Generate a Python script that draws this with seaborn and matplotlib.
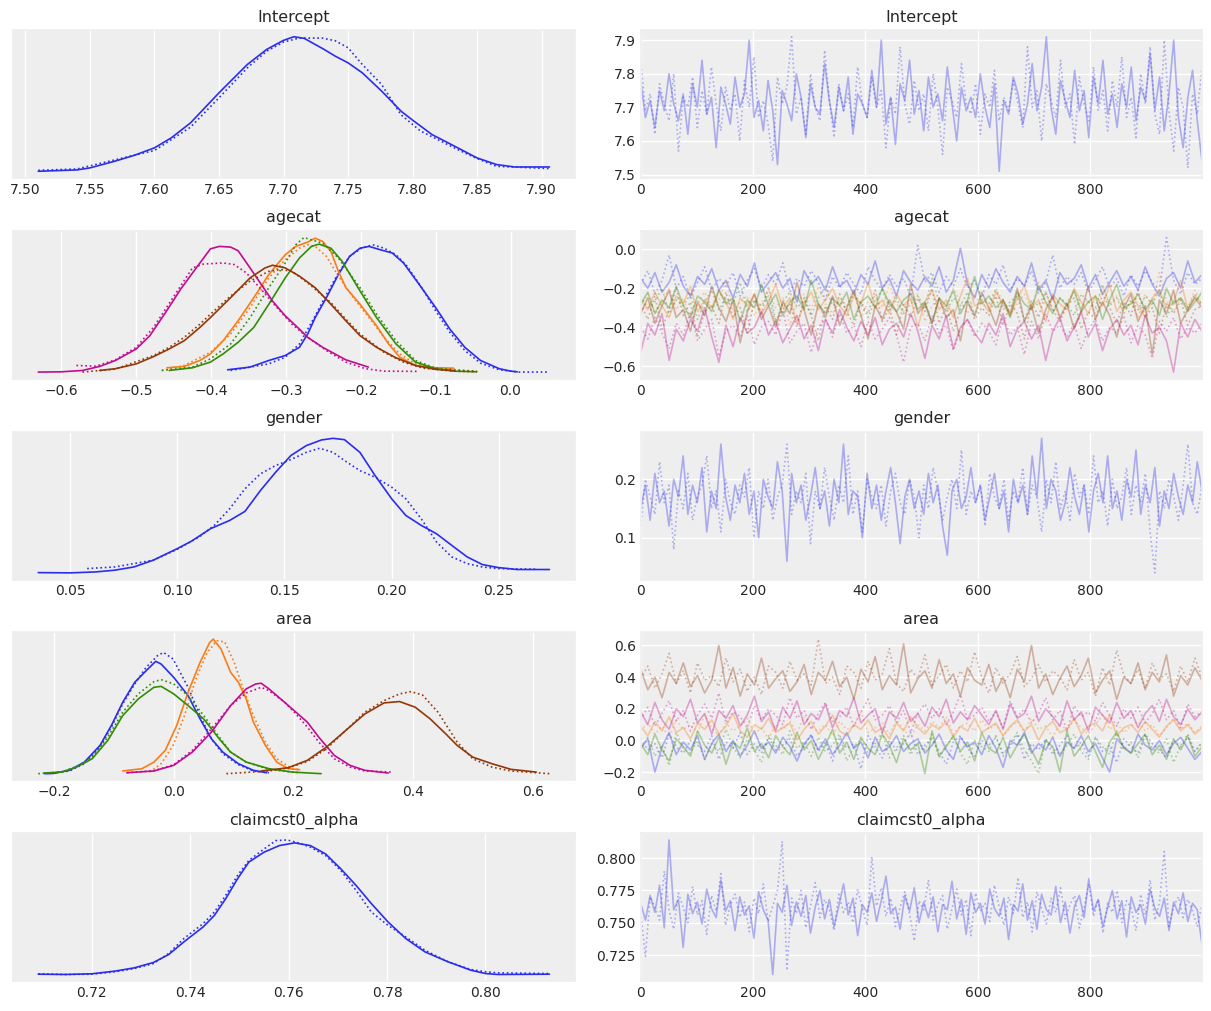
import numpy as np
import matplotlib
matplotlib.use("Agg")
import matplotlib.pyplot as plt
import seaborn as sns

# ---------------- colours (ArviZ darkgrid cycle) ----------------
COLORS = ["#2a2eec", "#fa7c17", "#328c06", "#c10c90", "#933708"]
VAR_NAMES = ["Intercept", "agecat", "gender", "area", "claimcst0_alpha"]

# ---------------- KDE curves (relative density) --------
# structure: [dim][chain] ; chain 0 solid, chain 1 dotted
intercept_kde_x = [[
    [7.510, 7.540, 7.550, 7.569, 7.584, 7.600, 7.613, 7.628, 7.650, 7.672, 7.687, 7.700, 7.708,
     7.716, 7.731, 7.740, 7.750, 7.761, 7.776, 7.791, 7.800, 7.815, 7.835, 7.850, 7.865, 7.879, 7.906],
    [7.510, 7.540, 7.569, 7.584, 7.600, 7.628, 7.650, 7.672, 7.687, 7.700, 7.712, 7.730, 7.740,
     7.750, 7.761, 7.776, 7.791, 7.806, 7.835, 7.850, 7.865, 7.906]]]
intercept_kde_y = [[
    [0.000, 0.010, 0.025, 0.074, 0.117, 0.174, 0.248, 0.360, 0.583, 0.794, 0.906, 0.973, 1.000,
     0.988, 0.908, 0.856, 0.806, 0.732, 0.596, 0.447, 0.380, 0.273, 0.174, 0.099, 0.050, 0.032, 0.032],
    [0.007, 0.017, 0.084, 0.119, 0.154, 0.328, 0.546, 0.769, 0.893, 0.960, 0.990, 0.990, 0.970,
     0.918, 0.794, 0.645, 0.420, 0.300, 0.161, 0.094, 0.037, 0.020]]]

agecat_kde_x = [
    [[-0.378, -0.348, -0.323, -0.301, -0.282, -0.271, -0.261, -0.246, -0.230, -0.215, -0.201, -0.189,
      -0.174, -0.158, -0.143, -0.122, -0.100, -0.081, -0.061, -0.040, -0.015, 0.000, 0.009],
     [-0.374, -0.323, -0.301, -0.282, -0.261, -0.246, -0.230, -0.215, -0.199, -0.184, -0.169, -0.153,
      -0.138, -0.117, -0.100, -0.081, -0.061, -0.040, -0.015, 0.011, 0.052]],
    [[-0.459, -0.436, -0.415, -0.401, -0.384, -0.364, -0.343, -0.323, -0.312, -0.301, -0.287, -0.271,
      -0.261, -0.251, -0.240, -0.230, -0.220, -0.201, -0.179, -0.163, -0.148, -0.127, -0.100, -0.076],
     [-0.466, -0.436, -0.401, -0.374, -0.348, -0.323, -0.301, -0.282, -0.271, -0.261, -0.246, -0.230,
      -0.210, -0.189, -0.169, -0.148, -0.127, -0.100, -0.076, -0.045]],
    [[-0.456, -0.425, -0.401, -0.384, -0.364, -0.343, -0.323, -0.301, -0.282, -0.266, -0.256, -0.240,
      -0.225, -0.201, -0.179, -0.153, -0.127, -0.100, -0.076, -0.045],
     [-0.466, -0.425, -0.401, -0.374, -0.348, -0.323, -0.301, -0.287, -0.276, -0.266, -0.251, -0.230,
      -0.201, -0.179, -0.153, -0.127, -0.100, -0.045]],
    [[-0.631, -0.600, -0.572, -0.549, -0.528, -0.500, -0.482, -0.461, -0.441, -0.420, -0.410, -0.401,
      -0.389, -0.374, -0.364, -0.348, -0.333, -0.318, -0.301, -0.282, -0.271, -0.251, -0.220, -0.190],
     [-0.580, -0.554, -0.528, -0.500, -0.477, -0.451, -0.425, -0.410, -0.384, -0.369, -0.353, -0.333,
      -0.312, -0.292, -0.271, -0.246, -0.220, -0.194, -0.169, -0.122]],
    [[-0.549, -0.528, -0.500, -0.477, -0.456, -0.436, -0.415, -0.401, -0.374, -0.348, -0.328, -0.318,
      -0.301, -0.282, -0.261, -0.240, -0.220, -0.201, -0.179, -0.153, -0.127, -0.100, -0.076],
     [-0.572, -0.528, -0.477, -0.456, -0.436, -0.415, -0.401, -0.374, -0.348, -0.323, -0.307, -0.292,
      -0.271, -0.240, -0.220, -0.201, -0.169, -0.143, -0.117, -0.076, -0.045]],
]
agecat_kde_y = [
    [[0.017, 0.037, 0.086, 0.123, 0.184, 0.283, 0.405, 0.553, 0.725, 0.860, 0.921, 0.934, 0.909,
      0.885, 0.811, 0.651, 0.479, 0.319, 0.184, 0.086, 0.025, 0.007, 0.002],
     [0.012, 0.061, 0.111, 0.209, 0.418, 0.577, 0.737, 0.860, 0.921, 0.946, 0.921, 0.872, 0.786,
      0.614, 0.455, 0.295, 0.160, 0.066, 0.017, 0.000, 0.000]],
    [[0.032, 0.042, 0.086, 0.135, 0.233, 0.381, 0.553, 0.725, 0.799, 0.872, 0.934, 0.966, 0.995,
      0.971, 0.897, 0.749, 0.627, 0.504, 0.344, 0.209, 0.111, 0.049, 0.032, 0.029],
     [0.012, 0.049, 0.147, 0.283, 0.479, 0.700, 0.835, 0.921, 0.946, 0.934, 0.860, 0.713, 0.553,
      0.405, 0.258, 0.135, 0.061, 0.025, 0.007, 0.002]],
    [[0.012, 0.032, 0.074, 0.135, 0.221, 0.332, 0.504, 0.700, 0.848, 0.934, 0.951, 0.921, 0.823,
      0.602, 0.405, 0.209, 0.074, 0.025, 0.007, 0.002],
     [0.012, 0.037, 0.098, 0.209, 0.405, 0.627, 0.811, 0.946, 1.000, 0.983, 0.958, 0.848, 0.627,
      0.430, 0.233, 0.086, 0.029, 0.005]],
    [[0.000, 0.002, 0.012, 0.042, 0.086, 0.172, 0.270, 0.442, 0.614, 0.774, 0.848, 0.916, 0.934,
      0.929, 0.902, 0.774, 0.651, 0.528, 0.418, 0.319, 0.258, 0.184, 0.091, 0.037],
     [0.049, 0.044, 0.091, 0.184, 0.332, 0.553, 0.774, 0.803, 0.811, 0.799, 0.737, 0.614, 0.479,
      0.356, 0.258, 0.160, 0.074, 0.025, 0.007, 0.005]],
    [[0.012, 0.025, 0.061, 0.115, 0.172, 0.233, 0.332, 0.405, 0.553, 0.700, 0.774, 0.794, 0.774,
      0.713, 0.627, 0.504, 0.381, 0.270, 0.184, 0.106, 0.049, 0.020, 0.012],
     [0.000, 0.022, 0.123, 0.184, 0.258, 0.356, 0.430, 0.565, 0.676, 0.749, 0.762, 0.749, 0.663,
      0.516, 0.393, 0.283, 0.147, 0.074, 0.029, 0.007, 0.005]],
]

gender_kde_x = [[
    [0.0352, 0.0500, 0.0620, 0.0709, 0.0798, 0.0888, 0.1000, 0.1066, 0.1155, 0.1245, 0.1316, 0.1388,
     0.1459, 0.1530, 0.1602, 0.1673, 0.1727, 0.1780, 0.1852, 0.1923, 0.2000, 0.2066, 0.2138, 0.2209,
     0.2280, 0.2352, 0.2423, 0.2495, 0.2584, 0.2736],
    [0.0580, 0.0709, 0.0798, 0.0888, 0.1000, 0.1102, 0.1173, 0.1245, 0.1316, 0.1388, 0.1459, 0.1530,
     0.1602, 0.1664, 0.1727, 0.1780, 0.1852, 0.1923, 0.2000, 0.2066, 0.2138, 0.2209, 0.2280, 0.2352,
     0.2423, 0.2495, 0.2673]]]
gender_kde_y = [[
    [0.002, 0.000, 0.007, 0.020, 0.044, 0.094, 0.180, 0.235, 0.328, 0.390, 0.457, 0.612, 0.748, 0.872,
     0.946, 0.988, 1.000, 0.990, 0.896, 0.723, 0.551, 0.427, 0.353, 0.291, 0.205, 0.119, 0.062, 0.040,
     0.025, 0.025],
    [0.032, 0.044, 0.069, 0.094, 0.175, 0.267, 0.353, 0.477, 0.625, 0.736, 0.798, 0.842, 0.896, 0.926,
     0.896, 0.835, 0.760, 0.711, 0.637, 0.551, 0.402, 0.230, 0.119, 0.069, 0.044, 0.032, 0.027]]]

area_kde_x = [
    [[-0.213, -0.200, -0.174, -0.149, -0.123, -0.104, -0.085, -0.065, -0.046, -0.030, -0.021, 0.000,
      0.024, 0.044, 0.063, 0.082, 0.108, 0.133, 0.155],
     [-0.216, -0.174, -0.149, -0.123, -0.104, -0.085, -0.065, -0.046, -0.027, -0.017, -0.001, 0.024,
      0.044, 0.063, 0.082, 0.108, 0.133, 0.159]],
    [[-0.085, -0.053, -0.033, -0.014, 0.005, 0.024, 0.044, 0.060, 0.066, 0.079, 0.095, 0.108, 0.121,
      0.133, 0.153, 0.172, 0.191, 0.210],
     [-0.040, -0.021, -0.001, 0.018, 0.037, 0.056, 0.072, 0.085, 0.101, 0.114, 0.133, 0.153, 0.172,
      0.197, 0.210]],
    [[-0.216, -0.187, -0.162, -0.136, -0.110, -0.085, -0.059, -0.033, -0.021, 0.000, 0.024, 0.050,
      0.076, 0.095, 0.121, 0.159, 0.197, 0.246],
     [-0.226, -0.187, -0.162, -0.136, -0.110, -0.085, -0.059, -0.033, -0.021, 0.000, 0.024, 0.050,
      0.076, 0.095, 0.121, 0.159, 0.210]],
    [[-0.078, -0.033, 0.000, 0.031, 0.063, 0.095, 0.121, 0.137, 0.146, 0.159, 0.185, 0.204, 0.223,
      0.242, 0.268, 0.294, 0.319, 0.358],
     [-0.078, -0.033, 0.000, 0.031, 0.063, 0.095, 0.121, 0.146, 0.159, 0.185, 0.204, 0.223, 0.242,
      0.268, 0.294, 0.319, 0.364]],
    [[0.146, 0.191, 0.223, 0.255, 0.287, 0.319, 0.351, 0.377, 0.403, 0.428, 0.454, 0.473, 0.499,
      0.531, 0.563, 0.605],
     [0.088, 0.159, 0.191, 0.223, 0.255, 0.287, 0.319, 0.351, 0.377, 0.396, 0.415, 0.441, 0.473,
      0.499, 0.531, 0.563, 0.627]],
]
area_kde_y = [
    [[0.000, 0.002, 0.025, 0.086, 0.210, 0.358, 0.531, 0.679, 0.765, 0.835, 0.815, 0.716, 0.580,
      0.407, 0.259, 0.160, 0.074, 0.025, 0.007],
     [0.000, 0.020, 0.074, 0.198, 0.346, 0.519, 0.667, 0.790, 0.877, 0.901, 0.852, 0.642, 0.432,
      0.259, 0.148, 0.067, 0.020, 0.007]],
    [[0.020, 0.037, 0.086, 0.173, 0.358, 0.605, 0.827, 0.975, 1.000, 0.926, 0.753, 0.679, 0.556,
      0.383, 0.210, 0.086, 0.037, 0.030],
     [0.012, 0.074, 0.210, 0.432, 0.704, 0.901, 0.988, 0.980, 0.827, 0.654, 0.432, 0.235, 0.111,
      0.037, 0.030]],
    [[0.005, 0.012, 0.049, 0.111, 0.247, 0.432, 0.556, 0.642, 0.649, 0.593, 0.506, 0.407, 0.259,
      0.160, 0.086, 0.037, 0.012, 0.000],
     [0.000, 0.012, 0.054, 0.123, 0.272, 0.457, 0.593, 0.684, 0.699, 0.667, 0.580, 0.432, 0.272,
      0.160, 0.086, 0.032, 0.007]],
    [[0.007, 0.020, 0.062, 0.160, 0.309, 0.506, 0.630, 0.667, 0.672, 0.630, 0.531, 0.457, 0.383,
      0.272, 0.136, 0.062, 0.025, 0.005],
     [0.007, 0.022, 0.067, 0.173, 0.333, 0.506, 0.600, 0.642, 0.617, 0.531, 0.444, 0.346, 0.235,
      0.111, 0.049, 0.020, 0.012]],
    [[0.020, 0.044, 0.099, 0.198, 0.321, 0.444, 0.526, 0.536, 0.494, 0.407, 0.296, 0.210, 0.123,
      0.074, 0.032, 0.012],
     [0.000, 0.020, 0.042, 0.091, 0.185, 0.321, 0.457, 0.543, 0.593, 0.610, 0.585, 0.457, 0.235,
      0.111, 0.049, 0.020, 0.000]],
]

alpha_kde_x = [[
    [0.7091, 0.7146, 0.7200, 0.7247, 0.7286, 0.7325, 0.7356, 0.7387, 0.7426, 0.7449, 0.7472, 0.7496,
     0.7519, 0.7550, 0.7581, 0.7612, 0.7644, 0.7675, 0.7706, 0.7737, 0.7768, 0.7802, 0.7838, 0.7877,
     0.7924, 0.7970, 0.8000, 0.8025, 0.8130],
    [0.7091, 0.7146, 0.7200, 0.7247, 0.7286, 0.7325, 0.7356, 0.7387, 0.7426, 0.7449, 0.7472, 0.7496,
     0.7519, 0.7550, 0.7574, 0.7597, 0.7620, 0.7644, 0.7675, 0.7706, 0.7737, 0.7768, 0.7802, 0.7838,
     0.7877, 0.7924, 0.7970, 0.8000, 0.8025, 0.8130]]]
alpha_kde_y = [[
    [0.002, 0.000, 0.005, 0.025, 0.049, 0.089, 0.148, 0.242, 0.353, 0.439, 0.563, 0.711, 0.835, 0.909,
     0.958, 0.978, 0.958, 0.896, 0.785, 0.662, 0.527, 0.390, 0.267, 0.168, 0.094, 0.032, 0.007, 0.000,
     0.002],
    [0.005, 0.000, 0.002, 0.020, 0.044, 0.081, 0.156, 0.267, 0.378, 0.464, 0.588, 0.736, 0.847, 0.933,
     0.995, 1.000, 0.978, 0.946, 0.884, 0.773, 0.625, 0.464, 0.365, 0.279, 0.180, 0.094, 0.037, 0.020,
     0.012, 0.007]]]

# ---------------- trace values read (thinned) from the picture ----------------
intercept_trace = [[
    [7.78, 7.67, 7.72, 7.64, 7.75, 7.69, 7.80, 7.71, 7.66, 7.74,
     7.62, 7.77, 7.70, 7.84, 7.68, 7.73, 7.58, 7.76, 7.71, 7.65,
     7.79, 7.70, 7.74, 7.90, 7.67, 7.72, 7.63, 7.78, 7.69, 7.53,
     7.75, 7.71, 7.66, 7.80, 7.73, 7.61, 7.77, 7.70, 7.68, 7.83,
     7.72, 7.64, 7.76, 7.69, 7.79, 7.62, 7.74, 7.71, 7.67, 7.81,
     7.70, 7.90, 7.65, 7.73, 7.59, 7.77, 7.72, 7.84, 7.68, 7.75,
     7.63, 7.79, 7.70, 7.74, 7.66, 7.82, 7.71, 7.60, 7.76, 7.69,
     7.73, 7.67, 7.80, 7.70, 7.64, 7.77, 7.51, 7.72, 7.68, 7.79,
     7.74, 7.65, 7.71, 7.83, 7.69, 7.76, 7.91, 7.70, 7.62, 7.78,
     7.72, 7.67, 7.81, 7.69, 7.75, 7.61, 7.79, 7.71, 7.84, 7.68,
     7.74, 7.64, 7.77, 7.70, 7.82, 7.66, 7.76, 7.72, 7.86, 7.69,
     7.79, 7.63, 7.74, 7.90, 7.67, 7.58, 7.73, 7.81, 7.66, 7.54],
    [7.84, 7.69, 7.74, 7.62, 7.77, 7.71, 7.66, 7.80, 7.57, 7.73,
     7.70, 7.79, 7.64, 7.75, 7.68, 7.82, 7.71, 7.63, 7.76, 7.69,
     7.74, 7.60, 7.78, 7.70, 7.85, 7.67, 7.72, 7.65, 7.54, 7.79,
     7.71, 7.76, 7.91, 7.68, 7.73, 7.62, 7.80, 7.70, 7.66, 7.87,
     7.72, 7.61, 7.77, 7.69, 7.74, 7.64, 7.82, 7.71, 7.67, 7.79,
     7.70, 7.75, 7.58, 7.73, 7.68, 7.88, 7.71, 7.65, 7.78, 7.69,
     7.74, 7.63, 7.80, 7.70, 7.56, 7.76, 7.72, 7.67, 7.83, 7.71,
     7.68, 7.77, 7.62, 7.74, 7.70, 7.81, 7.66, 7.73, 7.69, 7.78,
     7.71, 7.64, 7.88, 7.70, 7.75, 7.60, 7.77, 7.72, 7.67, 7.84,
     7.70, 7.74, 7.59, 7.79, 7.71, 7.66, 7.82, 7.69, 7.75, 7.63,
     7.78, 7.70, 7.85, 7.67, 7.73, 7.61, 7.80, 7.71, 7.88, 7.68,
     7.62, 7.90, 7.69, 7.57, 7.76, 7.70, 7.52, 7.74, 7.68, 7.82]]]

agecat_trace = [
    [[-0.15, -0.20, -0.12, -0.22, -0.17, -0.08, -0.19, -0.24, -0.14, -0.18,
      -0.10, -0.21, -0.16, -0.25, -0.13, -0.19, -0.07, -0.22, -0.17, -0.12,
      -0.20, -0.15, -0.27, -0.11, -0.18, -0.14, -0.21, -0.09, -0.19, -0.16,
      -0.23, -0.13, -0.18, -0.06, -0.20, -0.15, -0.24, -0.11, -0.17, -0.21,
      -0.14, -0.19, -0.09, -0.22, -0.16, 0.005, -0.18, -0.25, -0.13, -0.20,
      -0.10, -0.17, -0.22, -0.14, -0.19, -0.07, -0.21, -0.16, -0.26, -0.12,
      -0.18, -0.15, -0.08, -0.20, -0.13, -0.23, -0.17, -0.11, -0.19, -0.14,
      -0.21, -0.09, -0.18, -0.24, -0.15, -0.12, -0.20, -0.06, -0.17, -0.13],
     [-0.18, -0.11, -0.23, -0.16, -0.03, -0.20, -0.14, -0.25, -0.17, -0.09,
      -0.21, -0.15, -0.19, -0.12, -0.24, -0.16, -0.10, -0.20, -0.13, -0.18,
      -0.07, -0.22, -0.15, -0.19, -0.11, -0.17, -0.26, -0.14, -0.20, -0.12,
      -0.18, -0.23, -0.09, -0.16, -0.21, -0.13, -0.19, -0.15, -0.24, 0.02,
      -0.17, -0.12, -0.22, -0.14, -0.19, -0.10, -0.20, -0.16, -0.25, -0.13,
      -0.18, -0.08, -0.21, -0.15, -0.19, -0.11, -0.23, -0.17, -0.03, -0.20,
      -0.14, -0.18, -0.12, -0.22, -0.16, -0.09, -0.20, -0.15, -0.24, -0.13,
      -0.19, -0.11, -0.17, -0.21, 0.06, -0.16, -0.23, -0.12, -0.18, -0.15]],
    [[-0.26, -0.31, -0.22, -0.29, -0.35, -0.24, -0.28, -0.19, -0.32, -0.26,
      -0.30, -0.21, -0.27, -0.36, -0.25, -0.29, -0.23, -0.33, -0.27, -0.18,
      -0.30, -0.25, -0.38, -0.28, -0.22, -0.31, -0.26, -0.20, -0.29, -0.34,
      -0.24, -0.28, -0.17, -0.30, -0.26, -0.33, -0.23, -0.29, -0.25, -0.40,
      -0.27, -0.21, -0.31, -0.26, -0.35, -0.24, -0.15, -0.29, -0.27, -0.32,
      -0.22, -0.28, -0.34, -0.25, -0.19, -0.30, -0.26, -0.37, -0.23, -0.28,
      -0.31, -0.20, -0.27, -0.33, -0.24, -0.29, -0.18, -0.32, -0.26, -0.22,
      -0.29, -0.35, -0.25, -0.21, -0.30, -0.27, -0.16, -0.31, -0.24, -0.28],
     [-0.29, -0.23, -0.33, -0.27, -0.20, -0.31, -0.25, -0.36, -0.28, -0.22,
      -0.30, -0.26, -0.16, -0.32, -0.27, -0.24, -0.34, -0.28, -0.21, -0.30,
      -0.25, -0.39, -0.27, -0.23, -0.31, -0.19, -0.28, -0.33, -0.25, -0.29,
      -0.22, -0.35, -0.27, -0.24, -0.30, -0.18, -0.28, -0.32, -0.26, -0.23,
      -0.37, -0.29, -0.25, -0.31, -0.20, -0.27, -0.33, -0.24, -0.28, -0.30,
      -0.21, -0.26, -0.34, -0.28, -0.23, -0.31, -0.17, -0.29, -0.25, -0.36,
      -0.27, -0.22, -0.30, -0.26, -0.33, -0.19, -0.28, -0.24, -0.31, -0.27,
      -0.35, -0.23, -0.29, -0.12, -0.26, -0.32, -0.25, -0.30, -0.21, -0.28]],
    [[-0.28, -0.22, -0.33, -0.26, -0.30, -0.19, -0.29, -0.35, -0.24, -0.27,
      -0.32, -0.21, -0.28, -0.25, -0.37, -0.26, -0.30, -0.18, -0.29, -0.23,
      -0.34, -0.27, -0.24, -0.31, -0.16, -0.28, -0.33, -0.25, -0.29, -0.22,
      -0.36, -0.27, -0.24, -0.30, -0.20, -0.28, -0.32, -0.26, -0.23, -0.31,
      -0.27, -0.38, -0.25, -0.29, -0.21, -0.33, -0.26, -0.14, -0.28, -0.24,
      -0.30, -0.26, -0.35, -0.22, -0.28, -0.31, -0.19, -0.27, -0.33, -0.25,
      -0.29, -0.21, -0.32, -0.27, -0.24, -0.36, -0.26, -0.18, -0.30, -0.28,
      -0.23, -0.31, -0.26, -0.34, -0.20, -0.28, -0.25, -0.32, -0.27, -0.22],
     [-0.24, -0.30, -0.27, -0.20, -0.33, -0.26, -0.29, -0.23, -0.36, -0.27,
      -0.21, -0.31, -0.25, -0.28, -0.17, -0.32, -0.26, -0.29, -0.24, -0.38,
      -0.27, -0.22, -0.30, -0.26, -0.34, -0.25, -0.19, -0.29, -0.27, -0.31,
      -0.23, -0.28, -0.35, -0.26, -0.21, -0.30, -0.25, -0.33, -0.28, -0.24,
      -0.30, -0.15, -0.27, -0.32, -0.25, -0.29, -0.22, -0.34, -0.26, -0.28,
      -0.20, -0.31, -0.27, -0.24, -0.37, -0.26, -0.29, -0.22, -0.32, -0.25,
      -0.28, -0.34, -0.23, -0.27, -0.30, -0.18, -0.29, -0.25, -0.33, -0.26,
      -0.31, -0.24, -0.28, -0.21, -0.35, -0.27, -0.25, -0.30, -0.23, -0.29]],
    [[-0.53, -0.38, -0.44, -0.33, -0.57, -0.41, -0.47, -0.36, -0.42, -0.30,
      -0.45, -0.58, -0.39, -0.50, -0.35, -0.43, -0.40, -0.32, -0.44, -0.37,
      -0.48, -0.41, -0.34, -0.46, -0.39, -0.52, -0.36, -0.43, -0.31, -0.40,
      -0.47, -0.37, -0.44, -0.35, -0.49, -0.41, -0.38, -0.45, -0.33, -0.42,
      -0.56, -0.39, -0.46, -0.34, -0.51, -0.40, -0.36, -0.43, -0.48, -0.38,
      -0.44, -0.33, -0.50, -0.41, -0.37, -0.46, -0.39, -0.57, -0.42, -0.35,
      -0.47, -0.40, -0.32, -0.45, -0.38, -0.52, -0.41, -0.36, -0.44, -0.39,
      -0.49, -0.34, -0.43, -0.40, -0.47, -0.63, -0.38, -0.45, -0.36, -0.42],
     [-0.40, -0.46, -0.35, -0.43, -0.51, -0.38, -0.44, -0.32, -0.47, -0.41,
      -0.36, -0.55, -0.42, -0.39, -0.45, -0.34, -0.49, -0.40, -0.37, -0.44,
      -0.31, -0.48, -0.42, -0.38, -0.53, -0.40, -0.36, -0.45, -0.33, -0.43,
      -0.39, -0.50, -0.37, -0.46, -0.41, -0.35, -0.44, -0.58, -0.40, -0.38,
      -0.47, -0.34, -0.43, -0.39, -0.52, -0.41, -0.36, -0.45, -0.38, -0.42,
      -0.49, -0.35, -0.44, -0.40, -0.54, -0.37, -0.46, -0.33, -0.42, -0.39,
      -0.45, -0.38, -0.51, -0.41, -0.36, -0.47, -0.40, -0.43, -0.34, -0.48,
      -0.39, -0.44, -0.56, -0.37, -0.42, -0.35, -0.46, -0.40, -0.43, -0.38]],
    [[-0.33, -0.25, -0.38, -0.29, -0.21, -0.35, -0.31, -0.42, -0.27, -0.34,
      -0.19, -0.30, -0.37, -0.26, -0.48, -0.32, -0.23, -0.36, -0.29, -0.40,
      -0.27, -0.33, -0.17, -0.31, -0.44, -0.28, -0.35, -0.24, -0.39, -0.30,
      -0.21, -0.34, -0.46, -0.29, -0.36, -0.26, -0.32, -0.41, -0.18, -0.33,
      -0.28, -0.38, -0.25, -0.35, -0.31, -0.47, -0.27, -0.34, -0.22, -0.30,
      -0.39, -0.26, -0.33, -0.20, -0.37, -0.29, -0.43, -0.31, -0.24, -0.35,
      -0.28, -0.41, -0.32, -0.19, -0.36, -0.27, -0.34, -0.45, -0.30, -0.23,
      -0.37, -0.29, -0.54, -0.26, -0.33, -0.21, -0.38, -0.31, -0.25, -0.30],
     [-0.28, -0.36, -0.24, -0.41, -0.31, -0.20, -0.34, -0.27, -0.45, -0.32,
      -0.29, -0.38, -0.22, -0.35, -0.30, -0.43, -0.26, -0.33, -0.19, -0.37,
      -0.31, -0.28, -0.40, -0.25, -0.34, -0.47, -0.29, -0.36, -0.23, -0.32,
      -0.39, -0.27, -0.33, -0.21, -0.37, -0.30, -0.44, -0.28, -0.35, -0.25,
      -0.32, -0.20, -0.38, -0.29, -0.42, -0.31, -0.26, -0.36, -0.30, -0.34,
      -0.24, -0.39, -0.28, -0.33, -0.46, -0.27, -0.35, -0.22, -0.31, -0.37,
      -0.29, -0.25, -0.41, -0.32, -0.36, -0.23, -0.30, -0.38, -0.27, -0.34,
      -0.21, -0.35, -0.30, -0.43, -0.28, -0.33, -0.26, -0.39, -0.31, -0.29]],
]

gender_trace = [[
    [0.15, 0.19, 0.13, 0.21, 0.16, 0.18, 0.12, 0.20, 0.17, 0.24,
     0.14, 0.19, 0.16, 0.22, 0.11, 0.18, 0.15, 0.26, 0.17, 0.13,
     0.19, 0.16, 0.21, 0.14, 0.18, 0.10, 0.20, 0.17, 0.15, 0.23,
     0.18, 0.06, 0.21, 0.16, 0.19, 0.13, 0.17, 0.22, 0.15, 0.18,
     0.12, 0.20, 0.16, 0.26, 0.14, 0.18, 0.17, 0.10, 0.21, 0.15,
     0.19, 0.13, 0.18, 0.22, 0.16, 0.09, 0.17, 0.20, 0.15, 0.18,
     0.14, 0.21, 0.16, 0.19, 0.12, 0.07, 0.18, 0.20, 0.15, 0.17,
     0.22, 0.16, 0.19, 0.13, 0.17, 0.21, 0.15, 0.18, 0.11, 0.20,
     0.16, 0.19, 0.14, 0.24, 0.17, 0.27, 0.15, 0.20, 0.18, 0.13,
     0.16, 0.22, 0.17, 0.14, 0.19, 0.11, 0.18, 0.21, 0.16, 0.24,
     0.15, 0.18, 0.13, 0.20, 0.17, 0.25, 0.14, 0.19, 0.16, 0.22,
     0.12, 0.18, 0.15, 0.21, 0.17, 0.14, 0.19, 0.16, 0.23, 0.18],
    [0.12, 0.20, 0.17, 0.14, 0.23, 0.16, 0.19, 0.08, 0.18, 0.15,
     0.21, 0.13, 0.17, 0.19, 0.24, 0.15, 0.18, 0.11, 0.20, 0.16,
     0.14, 0.19, 0.17, 0.22, 0.10, 0.18, 0.15, 0.20, 0.13, 0.17,
     0.19, 0.26, 0.14, 0.18, 0.16, 0.21, 0.09, 0.18, 0.15, 0.22,
     0.17, 0.13, 0.19, 0.16, 0.24, 0.14, 0.18, 0.11, 0.20, 0.17,
     0.15, 0.19, 0.12, 0.18, 0.21, 0.16, 0.14, 0.20, 0.17, 0.10,
     0.19, 0.15, 0.22, 0.18, 0.13, 0.17, 0.20, 0.15, 0.25, 0.14,
     0.18, 0.16, 0.19, 0.12, 0.21, 0.17, 0.15, 0.20, 0.13, 0.18,
     0.16, 0.22, 0.14, 0.19, 0.17, 0.11, 0.20, 0.16, 0.23, 0.15,
     0.18, 0.13, 0.21, 0.17, 0.19, 0.14, 0.24, 0.16, 0.18, 0.12,
     0.20, 0.15, 0.17, 0.22, 0.14, 0.19, 0.16, 0.21, 0.11, 0.04,
     0.18, 0.15, 0.20, 0.17, 0.13, 0.19, 0.26, 0.16, 0.14, 0.19]]]

area_trace = [
    [[-0.05, 0.01, -0.20, -0.04, 0.05, -0.09, -0.01, -0.06, 0.03, -0.12,
      -0.02, 0.04, -0.07, 0.00, -0.10, -0.03, 0.06, -0.05, -0.01, -0.08,
      0.02, -0.04, -0.13, -0.02, 0.03, -0.06, 0.01, -0.09, -0.03, 0.05,
      -0.05, -0.01, -0.11, 0.02, -0.07, -0.04, 0.03, -0.07, -0.02, 0.01,
      -0.08, -0.03, 0.04, -0.06, -0.12, 0.02, -0.04, -0.01, -0.09, 0.03,
      -0.05, -0.17, 0.00, -0.03, 0.05, -0.08, -0.02, -0.06, 0.02, -0.10,
      -0.01, -0.05, 0.03, -0.07, -0.02, -0.11, -0.20, 0.01, -0.04, -0.08,
      0.04, -0.03, -0.06, 0.00, -0.09, -0.02, 0.02, -0.05, -0.12, -0.07],
     [0.01, -0.06, -0.02, -0.11, 0.04, -0.04, -0.08, 0.00, -0.03, -0.07,
      0.03, -0.12, -0.01, -0.05, 0.05, -0.09, -0.02, -0.08, 0.02, -0.06,
      -0.03, 0.01, -0.10, -0.04, 0.04, -0.07, -0.01, -0.13, 0.02, -0.05,
      -0.02, -0.18, 0.03, -0.04, -0.11, 0.00, -0.06, -0.02, 0.05, -0.09,
      -0.03, 0.01, -0.07, -0.15, -0.01, 0.03, -0.05, -0.10, 0.00, -0.03,
      0.02, -0.08, -0.04, 0.04, -0.12, -0.02, -0.06, 0.01, -0.09, -0.03,
      0.03, -0.05, -0.01, -0.10, 0.02, -0.07, -0.03, -0.14, 0.01, -0.04,
      -0.08, 0.04, -0.02, -0.06, -0.11, 0.00, -0.04, 0.02, -0.07, -0.01]],
    [[0.09, 0.03, 0.12, 0.06, 0.15, 0.05, 0.08, 0.01, 0.11, 0.07,
      0.13, 0.04, 0.09, 0.17, 0.06, 0.02, 0.10, 0.07, 0.14, 0.05,
      0.08, 0.11, 0.00, 0.07, 0.12, 0.04, 0.09, 0.16, 0.06, 0.03,
      0.10, 0.07, 0.13, 0.05, 0.08, 0.01, 0.11, 0.06, 0.15, 0.08,
      0.04, 0.10, 0.07, 0.12, 0.02, 0.09, 0.06, 0.14, 0.05, 0.08,
      0.11, 0.03, 0.09, 0.13, 0.06, 0.10, 0.00, 0.08, 0.12, 0.05,
      0.07, 0.14, 0.04, 0.09, 0.11, 0.06, 0.16, 0.03, 0.08, 0.10,
      0.05, 0.12, 0.07, 0.02, 0.09, 0.13, 0.06, 0.10, 0.04, 0.08],
     [0.06, 0.11, 0.04, 0.09, 0.02, 0.13, 0.07, 0.10, 0.05, 0.16,
      0.08, 0.03, 0.11, 0.06, 0.09, 0.14, 0.04, 0.08, 0.01, 0.10,
      0.07, 0.12, 0.05, 0.15, 0.08, 0.06, 0.10, 0.03, 0.12, 0.07,
      0.09, 0.18, 0.05, 0.08, 0.11, 0.04, 0.13, 0.07, 0.02, 0.10,
      0.06, 0.12, 0.08, 0.15, 0.04, 0.09, 0.11, 0.06, 0.13, 0.07,
      0.10, 0.03, 0.08, 0.12, 0.05, 0.14, 0.07, 0.09, 0.02, 0.11,
      0.06, 0.13, 0.08, 0.04, 0.10, 0.16, 0.07, 0.11, 0.05, 0.09,
      0.12, 0.06, 0.10, 0.03, 0.08, 0.14, 0.07, 0.11, 0.05, 0.09]],
    [[-0.02, -0.09, 0.04, -0.06, -0.13, 0.01, -0.04, -0.10, 0.06, -0.03,
      -0.08, 0.02, -0.15, -0.01, -0.05, 0.08, -0.07, -0.02, -0.11, 0.03,
      -0.04, -0.09, 0.05, -0.06, 0.00, -0.12, -0.03, 0.07, -0.08, -0.01,
      -0.12, 0.02, -0.05, -0.09, 0.04, -0.03, -0.14, 0.01, -0.06, -0.02,
      -0.21, 0.06, -0.10, -0.04, 0.03, -0.07, -0.01, -0.13, 0.05, -0.05,
      -0.08, 0.02, -0.11, -0.03, 0.04, -0.06, -0.15, 0.00, -0.04, -0.20,
      0.06, -0.10, -0.04, 0.03, -0.07, -0.17, -0.01, 0.05, -0.05, -0.08,
      -0.02, 0.04, -0.09, -0.03, -0.12, 0.01, -0.06, 0.03, -0.10, -0.04],
     [-0.06, 0.02, -0.10, -0.03, -0.16, 0.05, -0.05, -0.08, 0.00, -0.12,
      -0.02, -0.07, 0.07, -0.04, -0.11, 0.01, -0.06, -0.14, 0.03, -0.03,
      -0.09, 0.06, -0.05, -0.01, -0.10, 0.02, -0.07, -0.03, 0.04, -0.13,
      -0.04, 0.01, -0.08, -0.02, 0.05, -0.11, -0.05, 0.03, -0.09, -0.01,
      -0.06, 0.04, -0.11, -0.03, 0.02, -0.08, -0.15, 0.00, -0.04, -0.07,
      0.03, -0.10, -0.02, 0.05, -0.06, -0.13, -0.21, 0.01, -0.05, -0.09,
      -0.03, 0.04, -0.07, -0.12, 0.02, -0.04, -0.09, 0.06, -0.06, -0.01,
      -0.11, 0.03, -0.05, -0.08, 0.01, -0.14, -0.03, 0.04, -0.07, -0.02]],
    [[0.18, 0.10, 0.24, 0.13, 0.07, 0.20, 0.15, 0.26, 0.11, 0.17,
      0.04, 0.19, 0.14, 0.22, 0.09, 0.16, 0.28, 0.12, 0.18, 0.06,
      0.21, 0.14, 0.25, 0.10, 0.17, 0.13, 0.23, 0.08, 0.19, 0.15,
      0.27, 0.11, 0.16, 0.20, 0.05, 0.18, 0.14, 0.24, 0.12, 0.17,
      0.09, 0.21, 0.15, 0.26, 0.11, 0.18, 0.13, 0.22, 0.16, 0.10,
      0.19, 0.07, 0.23, 0.14, 0.17, 0.28, 0.12, 0.20, 0.15, 0.09,
      0.25, 0.13, 0.18, 0.06, 0.21, 0.16, 0.11, 0.24, 0.14, 0.19,
      0.08, 0.17, 0.22, 0.12, 0.26, 0.15, 0.10, 0.20, 0.13, 0.18],
     [0.13, 0.21, 0.09, 0.17, 0.25, 0.12, 0.19, 0.06, 0.16, 0.23,
      0.14, 0.30, 0.11, 0.18, 0.15, 0.08, 0.22, 0.13, 0.20, 0.16,
      0.10, 0.27, 0.14, 0.19, 0.07, 0.17, 0.24, 0.12, 0.15, 0.21,
      0.09, 0.18, 0.26, 0.13, 0.16, 0.22, 0.11, 0.19, 0.05, 0.17,
      0.23, 0.14, 0.20, 0.10, 0.18, 0.29, 0.13, 0.16, 0.21, 0.12,
      0.18, 0.08, 0.25, 0.15, 0.20, 0.11, 0.17, 0.27, 0.13, 0.19,
      0.06, 0.22, 0.15, 0.18, 0.12, 0.24, 0.16, 0.09, 0.20, 0.14,
      0.21, 0.11, 0.17, 0.26, 0.13, 0.19, 0.08, 0.23, 0.15, 0.18]],
    [[0.45, 0.32, 0.40, 0.27, 0.43, 0.36, 0.49, 0.34, 0.41, 0.30,
      0.38, 0.60, 0.33, 0.46, 0.28, 0.42, 0.35, 0.52, 0.33, 0.39,
      0.44, 0.31, 0.37, 0.48, 0.29, 0.43, 0.38, 0.50, 0.34, 0.40,
      0.26, 0.45, 0.37, 0.53, 0.32, 0.41, 0.35, 0.61, 0.30, 0.39,
      0.44, 0.33, 0.51, 0.36, 0.42, 0.28, 0.46, 0.38, 0.35, 0.48,
      0.31, 0.40, 0.27, 0.45, 0.37, 0.60, 0.33, 0.42, 0.29, 0.39,
      0.47, 0.34, 0.41, 0.52, 0.30, 0.38, 0.44, 0.26, 0.40, 0.36,
      0.49, 0.32, 0.43, 0.37, 0.54, 0.28, 0.41, 0.35, 0.46, 0.38],
     [0.39, 0.47, 0.33, 0.42, 0.55, 0.36, 0.44, 0.30, 0.49, 0.38,
      0.41, 0.34, 0.52, 0.37, 0.45, 0.31, 0.40, 0.29, 0.47, 0.43,
      0.33, 0.50, 0.38, 0.42, 0.35, 0.64, 0.36, 0.40, 0.29, 0.47,
      0.43, 0.33, 0.50, 0.38, 0.42, 0.58, 0.36, 0.31, 0.45, 0.39,
      0.54, 0.35, 0.41, 0.48, 0.33, 0.44, 0.37, 0.56, 0.40, 0.30,
      0.46, 0.36, 0.42, 0.53, 0.34, 0.39, 0.48, 0.37, 0.44, 0.40,
      0.32, 0.51, 0.38, 0.43, 0.28, 0.46, 0.35, 0.57, 0.41, 0.36,
      0.45, 0.33, 0.49, 0.39, 0.42, 0.31, 0.47, 0.37, 0.52, 0.40]],
]

alpha_trace = [[
    [0.765, 0.752, 0.771, 0.758, 0.779, 0.746, 0.814, 0.760, 0.768, 0.731,
     0.772, 0.757, 0.766, 0.749, 0.776, 0.761, 0.754, 0.783, 0.759, 0.767,
     0.744, 0.770, 0.756, 0.763, 0.738, 0.774, 0.760, 0.752, 0.710, 0.765,
     0.758, 0.779, 0.748, 0.766, 0.755, 0.771, 0.742, 0.762, 0.775, 0.753,
     0.768, 0.747, 0.763, 0.780, 0.756, 0.769, 0.740, 0.764, 0.758, 0.773,
     0.751, 0.767, 0.786, 0.757, 0.762, 0.745, 0.771, 0.759, 0.777, 0.750,
     0.766, 0.754, 0.770, 0.743, 0.764, 0.760, 0.782, 0.753, 0.768, 0.741,
     0.773, 0.758, 0.765, 0.749, 0.776, 0.761, 0.755, 0.769, 0.737, 0.764,
     0.759, 0.780, 0.752, 0.767, 0.745, 0.772, 0.760, 0.756, 0.778, 0.750,
     0.766, 0.742, 0.763, 0.771, 0.754, 0.784, 0.759, 0.768, 0.747, 0.762,
     0.775, 0.753, 0.767, 0.739, 0.770, 0.758, 0.764, 0.749, 0.776, 0.761,
     0.755, 0.769, 0.744, 0.766, 0.757, 0.773, 0.751, 0.765, 0.760, 0.733],
    [0.758, 0.724, 0.770, 0.762, 0.752, 0.790, 0.760, 0.745, 0.773, 0.762,
     0.750, 0.778, 0.756, 0.767, 0.741, 0.771, 0.759, 0.788, 0.748, 0.764,
     0.772, 0.754, 0.766, 0.743, 0.769, 0.757, 0.780, 0.751, 0.763, 0.775,
     0.813, 0.713, 0.769, 0.757, 0.775, 0.746, 0.763, 0.781, 0.754, 0.768,
     0.760, 0.744, 0.772, 0.758, 0.766, 0.750, 0.776, 0.761, 0.748, 0.801,
     0.763, 0.777, 0.755, 0.769, 0.747, 0.762, 0.774, 0.757, 0.736, 0.767,
     0.760, 0.783, 0.752, 0.764, 0.771, 0.745, 0.761, 0.776, 0.756, 0.768,
     0.740, 0.773, 0.759, 0.765, 0.751, 0.779, 0.762, 0.748, 0.770, 0.757,
     0.785, 0.754, 0.766, 0.743, 0.774, 0.761, 0.749, 0.769, 0.758, 0.777,
     0.753, 0.764, 0.771, 0.746, 0.762, 0.780, 0.755, 0.768, 0.742, 0.765,
     0.758, 0.775, 0.750, 0.767, 0.761, 0.744, 0.772, 0.756, 0.783, 0.752,
     0.766, 0.805, 0.747, 0.763, 0.770, 0.754, 0.768, 0.759, 0.747, 0.764]]]

N_DRAWS = 1000
KDE_DATA = [(intercept_kde_x, intercept_kde_y), (agecat_kde_x, agecat_kde_y),
            (gender_kde_x, gender_kde_y), (area_kde_x, area_kde_y), (alpha_kde_x, alpha_kde_y)]
TRACE_DATA = [intercept_trace, agecat_trace, gender_trace, area_trace, alpha_trace]
LINESTYLES = ["-", ":"]

# ---------------- style ----------------
sns.set_theme(style="darkgrid", rc={
    "axes.facecolor": "#eeeeee",
    "axes.edgecolor": "#eeeeee",
    "grid.color": "white",
    "grid.linewidth": 1.0,
    "text.color": "#262626",
    "xtick.color": "#262626",
    "ytick.color": "#262626",
    "xtick.labelsize": 10,
    "ytick.labelsize": 10,
    "axes.titlesize": 11.5,
    "figure.facecolor": "white",
})
plt.rcParams["font.family"] = ["DejaVu Sans"]

fig = plt.figure(figsize=(12.11, 10.11), dpi=100)
W, H = 1211.0, 1011.0
LEFT_X, LEFT_W = 12.7, 562.3
RIGHT_X, RIGHT_W = 640.7, 561.3
ROW_TOP0, ROW_STEP, ROW_H = 30.0, 200.8, 148.0

for r, name in enumerate(VAR_NAMES):
    top = ROW_TOP0 + r * ROW_STEP
    bottom = 1 - (top + ROW_H) / H
    ax_k = fig.add_axes([LEFT_X / W, bottom, LEFT_W / W, ROW_H / H])
    ax_t = fig.add_axes([RIGHT_X / W, bottom, RIGHT_W / W, ROW_H / H])

    kx, ky = KDE_DATA[r]
    for d in range(len(kx)):
        col = COLORS[d] if len(kx) > 1 else COLORS[0]
        for c in range(2):
            sns.lineplot(x=kx[d][c], y=ky[d][c], ax=ax_k, color=col, linestyle=LINESTYLES[c],
                         linewidth=1.2, estimator=None, sort=False)
    ax_k.set_yticks([])
    ax_k.yaxis.grid(False)
    ax_k.set_title(name)

    tr = TRACE_DATA[r]
    for d in range(len(tr)):
        col = COLORS[d] if len(tr) > 1 else COLORS[0]
        for c in range(2):
            vals = tr[d][c]
            draws = np.linspace(0, N_DRAWS - 1, len(vals))
            sns.lineplot(x=draws, y=vals, ax=ax_t, color=col, linestyle=LINESTYLES[c],
                         linewidth=1.2, alpha=0.35, estimator=None, sort=False)
    ax_t.margins(x=0)
    ax_t.set_xticks([0, 200, 400, 600, 800])
    ax_t.set_title(name)

    for ax in (ax_k, ax_t):
        ax.set_xlabel("")
        ax.set_ylabel("")
        ax.tick_params(length=0)

fig.savefig("out.png", dpi=100)
